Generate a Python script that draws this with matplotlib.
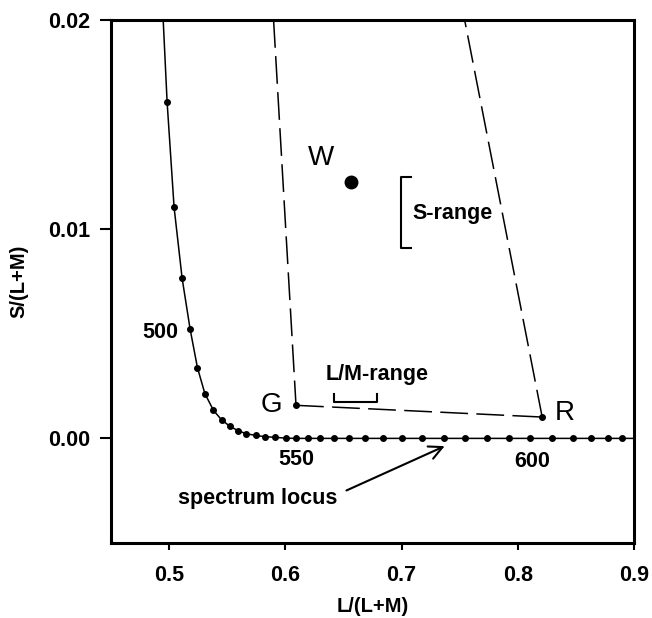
import matplotlib
matplotlib.use("Agg")
import matplotlib.pyplot as plt

plt.rcParams['font.family'] = ['Liberation Sans', 'DejaVu Sans']
plt.rcParams['lines.scale_dashes'] = False

# spectrum locus (first/last entries are line extensions beyond the axes)
locus_x = [0.4945, 0.4983, 0.5043, 0.5112, 0.5181, 0.5244, 0.5308, 0.5382, 0.5451,
           0.5520, 0.5592, 0.5666, 0.5747, 0.5828, 0.5914, 0.6006, 0.6095, 0.6192,
           0.6302, 0.6422, 0.6546, 0.6687, 0.6839, 0.7006, 0.7178, 0.7365, 0.7549,
           0.7739, 0.7922, 0.8106, 0.8291, 0.8472, 0.8627, 0.8773, 0.8894, 0.905]
locus_y = [0.0205, 0.01608, 0.01105, 0.00766, 0.00522, 0.00338, 0.00214, 0.00134, 0.00089,
           0.00059, 0.00037, 0.00022, 0.00014, 0.00008, 0.00005, 0.00001, 0.0, 0.0,
           0.0, 0.0, 0.0, 0.0, 0.0, 0.0, 0.0, 0.0, 0.0,
           0.0, 0.0, 0.0, 0.0, 0.0, 0.0, 0.0, 0.0, 0.0]

wl_labels = ['500', '550', '600']
wl_x = [0.4922, 0.6095, 0.812]
wl_y = [0.00507, -0.00100, -0.00110]

# gamut triangle: top-left, G, R, top-right
tri_x = [0.5899, 0.6092, 0.8210, 0.7543]
tri_y = [0.0200, 0.00158, 0.00102, 0.0200]
tri_names = ['G', 'R']

white_x, white_y = 0.6566, 0.01226

lm_range = [0.6422, 0.6793]
s_range = [0.00912, 0.01250]

TXT = 15.5

fig = plt.figure(figsize=(6.52, 6.18), dpi=100)
ax = fig.add_axes([0.1702, 0.1214, 0.8022, 0.8462])

ax.plot(locus_x, locus_y, color='black', lw=1.1, marker='o', ms=4,
        markevery=list(range(1, len(locus_x) - 1)), zorder=3)

dash = (0, (20, 6))
ax.plot(tri_x[:2], tri_y[:2], color='black', lw=1.1, linestyle=dash)
ax.plot(tri_x[1:3], tri_y[1:3], color='black', lw=1.1, linestyle=dash)
ax.plot(tri_x[2:], tri_y[2:], color='black', lw=1.1, linestyle=dash)
ax.plot(tri_x[1:3], tri_y[1:3], 'o', color='black', ms=4, zorder=4)

ax.plot([white_x], [white_y], 'o', color='black', ms=9, zorder=4)
ax.text(0.6308, 0.01342, 'W', fontsize=20, ha='center', va='center')
ax.text(0.5884, 0.00159, 'G', fontsize=20, ha='center', va='center')
ax.text(0.8405, 0.00120, 'R', fontsize=20, ha='center', va='center')

for lab, x, y in zip(wl_labels, wl_x, wl_y):
    ax.text(x, y, lab, fontsize=TXT, fontweight='bold', ha='center', va='center')

ax.text(0.5759, -0.00287, 'spectrum locus', fontsize=TXT, fontweight='bold',
        ha='center', va='center')
ax.annotate('', xy=(0.7371, -0.00037), xytext=(0.6526, -0.00249),
            arrowprops=dict(arrowstyle='->', color='black', lw=1.5,
                            mutation_scale=24, shrinkA=0, shrinkB=0))

# L/M-range bracket
ax.plot([lm_range[0], lm_range[0], lm_range[1], lm_range[1]],
        [0.00211, 0.00172, 0.00172, 0.00211], color='black', lw=1.5)
ax.text(0.6793, 0.00306, 'L/M-range', fontsize=TXT, fontweight='bold',
        ha='center', va='center')

# S-range bracket
ax.plot([0.7084, 0.6997, 0.6997, 0.7084],
        [s_range[1], s_range[1], s_range[0], s_range[0]], color='black', lw=1.5)
ax.text(0.7435, 0.01075, 'S-range', fontsize=TXT, fontweight='bold',
        ha='center', va='center')

ax.set_xlim(0.45, 0.9)
ax.set_ylim(-0.005, 0.02)
ax.set_xticks([0.5, 0.6, 0.7, 0.8, 0.9])
ax.set_xticklabels(['0.5', '0.6', '0.7', '0.8', '0.9'])
ax.set_yticks([0.0, 0.01, 0.02])
ax.set_yticklabels(['0.00', '0.01', '0.02'])
for lbl in ax.get_xticklabels() + ax.get_yticklabels():
    lbl.set_fontweight('bold')
    lbl.set_fontsize(15.5)
ax.tick_params(axis='x', direction='out', length=5, width=1.5, pad=11)
ax.tick_params(axis='y', direction='out', length=8, width=1.5, pad=7)
for sp in ax.spines.values():
    sp.set_linewidth(2.2)

ax.set_xlabel('L/(L+M)', fontsize=14.5, fontweight='bold', labelpad=8)
ax.set_ylabel('S/(L+M)', fontsize=14.5, fontweight='bold', labelpad=14)

fig.savefig('out.png', dpi=100)
